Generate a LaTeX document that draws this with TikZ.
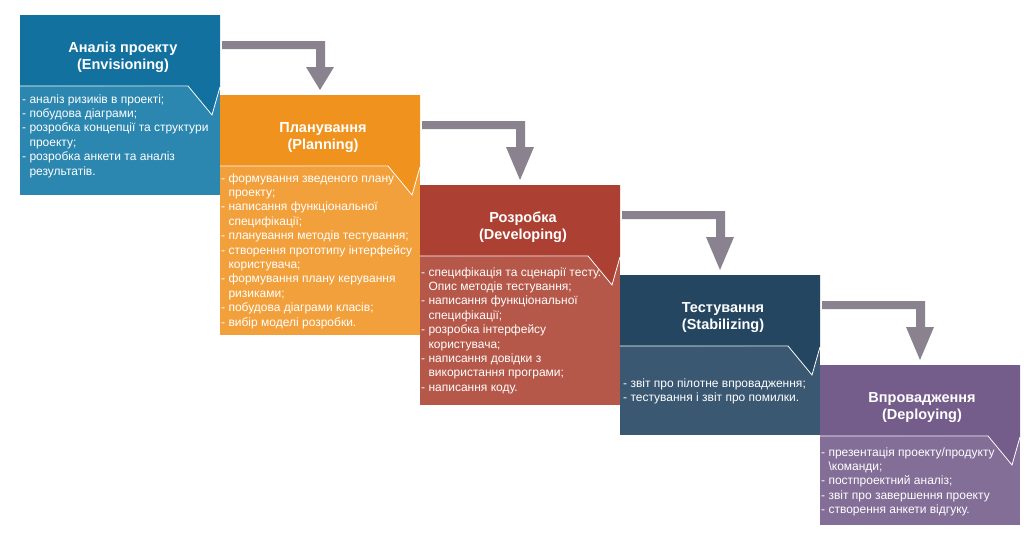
\documentclass[tikz,border=0pt]{standalone}
\usepackage{fontspec}
\setmainfont{Liberation Sans}
\usetikzlibrary{calc}
\definecolor{h1}{RGB}{18,113,158}
\definecolor{c1}{RGB}{43,135,175}
\definecolor{h2}{RGB}{240,146,30}
\definecolor{c2}{RGB}{242,160,60}
\definecolor{h3}{RGB}{172,64,51}
\definecolor{c3}{RGB}{181,87,73}
\definecolor{h4}{RGB}{37,70,96}
\definecolor{c4}{RGB}{59,88,114}
\definecolor{h5}{RGB}{117,93,139}
\definecolor{c5}{RGB}{131,110,152}
\definecolor{flowgray}{RGB}{138,131,143}
\newcommand\phaseblock[6]{%
  \coordinate (#1) at (#2,#3);
  \fill[#6] (#2,#3) rectangle ++(200,#4);
  \fill[#5] (#2,#3) -- ++(200,0) -- ++(0,72) -- ++(-8,29) -- ++(-24,-29) -- (#2,#3+71) -- cycle;
  \draw[sep] (#2,#3+71) -- ++(168,0) -- ++(24,29) -- ++(8,-28);
}
\newcommand\flowarrow[2]{%
  \fill[flow] ($(#1)+(202,26)$) -- ($(#1)+(305,26)$) -- ($(#1)+(305,52)$) -- ($(#1)+(314,52)$)
    -- ($(#2)+(100,-5)$) -- ($(#1)+(286,52)$) -- ($(#1)+(296,52)$) -- ($(#1)+(296,34)$)
    -- ($(#1)+(202,34)$) -- cycle;
}
\newcommand\hang{\hphantom{- }}
\begin{document}
\begin{tikzpicture}[x=1pt,y=-1pt,
  sep/.style={white,line width=0.8pt},
  flow/.style={fill=flowgray},
  head/.style={text=white,font=\bfseries\fontsize{14.5}{17}\selectfont,align=center,inner sep=0pt,anchor=base},
  body/.style={text=white,font=\fontsize{12}{14.4}\selectfont,align=left,inner sep=0pt,anchor=base west}]
\fill[white] (0,0) rectangle (1036,541);
\useasboundingbox (0,0) rectangle (1036,541);

\phaseblock{b1}{20}{15}{180}{h1}{c1}
\phaseblock{b2}{220}{95}{240}{h2}{c2}
\phaseblock{b3}{420}{185}{220}{h3}{c3}
\phaseblock{b4}{620}{275}{160}{h4}{c4}
\phaseblock{b5}{820}{365}{160}{h5}{c5}

\flowarrow{b1}{b2}
\flowarrow{b2}{b3}
\flowarrow{b3}{b4}
\flowarrow{b4}{b5}

% base anchor = baseline of the last line
\node[head] (t1) at (123,69.5) {Аналіз проекту\\(Envisioning)};
\node[head] (t2) at (323,149.5) {Планування\\(Planning)};
\node[head] (t3) at (523,239.5) {Розробка\\(Developing)};
\node[head] (t4) at (723,329.5) {Тестування\\(Stabilizing)};
\node[head] (t5) at (922,419.5) {Впровадження\\(Deploying)};

\node[body] (l1) at (22,175) {- аналіз ризиків в проекті;\\- побудова діаграми;\\- розробка концепції та структури\\\hang проекту;\\- розробка анкети та аналіз\\\hang результатів.};
\node[body] (l2) at (221,326) {- формування зведеного плану\\\hang проекту;\\- написання функціональної\\\hang специфікації;\\- планування методів тестування;\\- створення прототипу інтерфейсу\\\hang користувача;\\- формування плану керування\\\hang ризиками;\\- побудова діаграми класів;\\- вибір моделі розробки.};
\node[body] (l3) at (421,391.2) {- специфікація та сценарії тесту.\\\hang Опис методів тестування;\\- написання функціональної\\\hang специфікації;\\- розробка інтерфейсу\\\hang користувача;\\- написання довідки з\\\hang використання програми;\\- написання коду.};
\node[body] (l4) at (623,401.4) {- звіт про пілотне впровадження;\\- тестування і звіт про помилки.};
\node[body] (l5) at (821,513.6) {- презентація проекту/продукту\\\hang\textbackslash команди;\\- постпроектний аналіз;\\- звіт про завершення проекту\\- створення анкети відгуку.};
\end{tikzpicture}
\end{document}
